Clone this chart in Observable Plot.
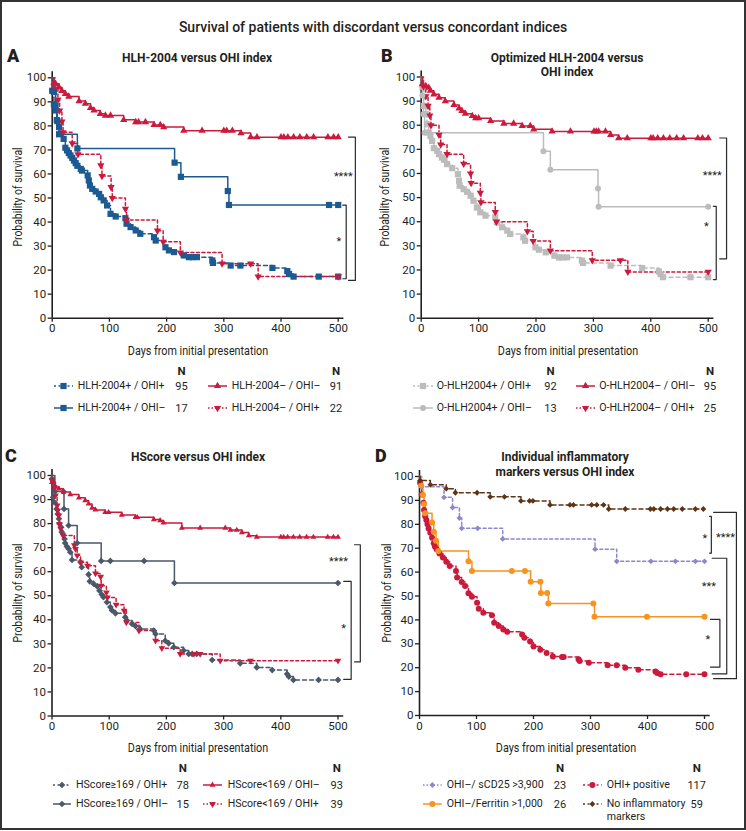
<!DOCTYPE html>
<html><head><meta charset="utf-8">
<script src="https://cdn.jsdelivr.net/npm/d3@7"></script>
<script src="https://cdn.jsdelivr.net/npm/@observablehq/plot@0.6"></script>
<style>
body{margin:0;background:#fff;font-family:Roboto,"Noto Sans",sans-serif;color:#231f20;}
#fig{position:relative;width:746px;height:830px;overflow:hidden;background:#fff;}
.frame{position:absolute;left:0;top:0;width:746px;height:830px;box-sizing:border-box;border:2px solid #333;pointer-events:none;}
.abs{position:absolute;white-space:nowrap;line-height:1;}
</style></head><body><div id="fig"><div class="frame"></div></div>
<script>
// ---------------- DATA ----------------
const xTicks = [0,100,200,300,400,500];
const yTicks = [0,10,20,30,40,50,60,70,80,90,100];

// Panel A: HLH-2004 versus OHI index  ([day, % surviving])
const A_pp = [[0,100],[0,94.6],[3,89],[6,86.4],[9,82],[12,79.5],[15,76.7],[20,74.6],[23,70.9],[26,69.8],[29,68.7],[32,67.7],[35,66.7],[38,65.6],[41,64.5],[44,63.4],[50,62.1],[52,61.4],[62,59.4],[64,57.3],[66,55.2],[70,53.8],[76,52.7],[82,51.7],[85,50.3],[90,49],[96,46.9],[102,43.4],[111,42.3],[128,41.6],[130,39.3],[137,37.9],[146,36.5],[154,35.1],[178,33.7],[181,32.3],[198,29.5],[204,28.2],[213,27.5],[230,26.1],[239,25.4],[245,25.4],[253,25.4],[280,24],[281,23],[312,21.9],[329,21.9],[385,20.9],[411,19.6],[414,18.4],[422,17.3],[466,17.3],[500,17.3]];
const A_pn = [[0,100],[3,94.1],[6,88.2],[8,82.4],[12,76.5],[44,70.6],[214,64.7],[225,58.8],[307,52.9],[309,47.1],[484,47.1],[500,47.1]];
const A_nn = [[0,100],[3,98],[6,97.5],[12,96],[17,94.6],[23,93.3],[29,92.2],[47,90.3],[58,89.2],[67,87.5],[73,86.4],[84,85],[93,84.3],[102,84.3],[125,82.5],[146,81.6],[151,81.6],[163,81.6],[178,80.4],[189,80.4],[195,79.5],[230,78],[262,78],[300,78],[305,78],[315,78],[330,77],[347,75.3],[358,75.3],[400,75.3],[405,75.3],[412,75.3],[422,75.3],[433,75.3],[445,75.3],[457,75.3],[482,75.3],[492,75.3],[500,75.3]];
const A_np = [[0,100],[5,95.5],[10,90.9],[13,86.4],[17,81.8],[19,77.3],[35,72.7],[45,68.2],[85,63.6],[87,59.1],[103,54.5],[105,50],[128,45.5],[130,40.9],[184,36.4],[194,31.8],[224,27.3],[297,22.7],[347,22.7],[360,17.3],[500,17.3]];
const A_labels = ["HLH-2004+ / OHI+","HLH-2004+ / OHI–","HLH-2004– / OHI–","HLH-2004– / OHI+"];
const A_n = [95,17,91,22];

// Panel B: Optimized HLH-2004 versus OHI index
const B_pp = [[0,100],[2,96],[5,88],[8,84.6],[10,80.4],[13,77],[16,75.6],[19,73.5],[22,70.5],[28,69.4],[31,68],[36,66.6],[40,65.7],[45,63.9],[54,62.2],[64,59.7],[66,57],[67,54.9],[74,53.5],[80,52.4],[86,50.8],[91,48.7],[97,45.9],[103,43.9],[112,42.5],[129,41.8],[132,39.7],[141,37.7],[150,36.3],[155,34.9],[178,33.5],[181,32.1],[199,29.4],[205,28.4],[217,27.3],[232,25.9],[240,25.2],[245,25.2],[254,25.2],[280,23.9],[282,22.9],[330,21.8],[385,20.8],[414,19.4],[417,18.3],[421,17],[469,17],[500,17]];
const B_pn = [[0,100],[2,92.3],[4,84.6],[6,76.9],[213,69.2],[225,61.5],[308,53.8],[309,46.2],[500,46.2]];
const B_nn = [[0,100],[2,97],[8,96.3],[13,95.6],[16,94.3],[22,92.8],[31,91.4],[42,90],[57,88.4],[66,87],[71,85.9],[77,84.8],[89,83.9],[95,82.9],[100,82.9],[121,81.8],[144,80.7],[161,80.7],[176,79.7],[190,79.7],[196,78.3],[228,77.4],[260,77.4],[301,77.4],[305,77.4],[309,77.4],[321,77.4],[330,76],[344,74.6],[359,74.6],[400,74.6],[404,74.6],[412,74.6],[422,74.6],[433,74.6],[445,74.6],[457,74.6],[482,74.6],[490,74.6],[500,74.6]];
const B_np = [[0,100],[4,96],[8,92],[12,88],[15,84],[17,80],[31,76],[34,72],[45,68],[74,64],[86,60],[87,56],[103,52],[104,48],[129,44],[131,40],[185,36],[195,32],[225,28],[298,24],[347,24],[360,19.2],[500,19.2]];
const B_labels = ["O-HLH2004+ / OHI+","O-HLH2004+ / OHI–","O-HLH2004– / OHI–","O-HLH2004– / OHI+"];
const B_n = [92,13,95,25];

// Panel C: HScore versus OHI index
const C_pp = [[0,100],[0,98.6],[2,91],[4,88.9],[8,86.1],[10,84],[12,82],[13,79.9],[16,78.5],[17,76.5],[22,73.6],[23,71.9],[26,70.5],[29,69.5],[32,68.1],[35,64.9],[50,63.9],[52,61.9],[64,58.8],[66,56],[73,54.9],[79,53.9],[83,52.1],[87,50.5],[90,49.4],[96,47.3],[102,45.3],[105,43.9],[111,42.7],[128,41.1],[131,39.7],[140,38.3],[146,37.4],[154,36.2],[178,35.5],[181,34.1],[198,31.3],[204,30.2],[213,28.6],[230,27.2],[239,25.8],[245,25.8],[253,25.8],[280,23.3],[329,21.9],[358,20.2],[385,19.1],[411,17.5],[414,16.4],[422,15],[466,15],[500,15]];
const C_pn = [[0,100],[5,93.3],[20,93.3],[21,86.1],[29,79.2],[44,71.9],[86,64.5],[102,64.5],[161,64.5],[214,55.3],[500,55.3]];
const C_nn = [[0,100],[0,97.2],[6,95.2],[12,94.5],[20,93.1],[32,92.1],[47,90.7],[58,89.6],[64,88.2],[70,86.5],[76,85.7],[93,84.7],[99,84.7],[122,83.6],[146,82.6],[149,82.6],[178,81.7],[189,81.3],[195,80.3],[227,78.2],[259,78.2],[303,78.2],[312,77.3],[323,77.3],[332,76.3],[344,75],[358,74.4],[400,74.4],[405,74.4],[412,74.4],[422,74.4],[433,74.4],[445,74.4],[457,74.4],[482,74.4],[492,74.4],[500,74.4]];
const C_np = [[0,100],[0,97.9],[4,95.2],[6,91.7],[9,87.5],[10,85.4],[12,83.4],[13,79.9],[15,77.9],[19,75.1],[39,71],[41,69.5],[44,66.8],[50,63.9],[62,62.5],[76,59.3],[85,57.9],[86,54.2],[95,51.4],[97,49.3],[112,46.3],[126,43.8],[130,38.9],[152,35.5],[181,31.3],[192,28.2],[224,25.8],[248,25.8],[259,25.8],[294,23],[347,23],[500,23]];
const C_labels = ["HScore≥169 / OHI+","HScore≥169 / OHI–","HScore<169 / OHI–","HScore<169 / OHI+"];
const C_n = [78,15,93,39];

// Panel D: Individual inflammatory markers versus OHI index
const D_scd25 = [[0,100],[4,95.7],[43,91.3],[58,87],[70,82.6],[74,78.3],[102,78.3],[146,73.9],[308,69.6],[346,64.5],[406,64.5],[449,64.5],[484,64.5],[500,64.5]];
const D_ferr = [[0,100],[3,96.2],[6,92.3],[8,88.5],[10,84.6],[22,80.8],[25,76.9],[29,73.1],[33,68.8],[86,64.5],[92,60.5],[162,60.5],[185,60.5],[195,56],[212,56],[213,51.3],[224,51.3],[226,46.9],[305,46.9],[307,41.3],[399,41.3],[500,41.3]];
const D_pos = [[0,100],[1,97.4],[4,92.5],[7,89],[8,86],[10,83.4],[12,81.8],[14,80],[16,78.2],[19,76.5],[22,74.4],[25,72.1],[27,70.7],[30,69.6],[35,67.8],[41,66.1],[47,64.3],[53,62.6],[64,60.5],[66,57.7],[74,55.9],[80,54.2],[86,51.1],[92,49.7],[101,47.2],[104,44.7],[112,43],[127,41.9],[131,38.8],[139,37.4],[147,36],[154,35],[180,33.9],[184,32.5],[194,31],[200,28.9],[212,27.5],[223,26.1],[234,24.7],[250,24.5],[253,24.5],[279,23.5],[281,22.8],[297,22.1],[330,21],[346,21],[361,20],[384,19.1],[414,18.4],[417,17.8],[423,17.3],[468,17.3],[500,17.3]];
const D_none = [[0,100],[1,98.3],[19,96.6],[47,94.9],[63,93.2],[101,93.2],[124,91.5],[149,91.5],[178,89.8],[193,89.8],[199,89.8],[229,88.1],[264,88.1],[270,88.1],[302,88.1],[311,88.1],[323,88.1],[332,86.4],[361,86.4],[405,86.4],[411,86.4],[423,86.4],[435,86.4],[446,86.4],[461,86.4],[484,86.4],[498,86.4]];
const D_labels = ["OHI–/ sCD25 >3,900","OHI–/Ferritin >1,000","OHI+ positive","No inflammatory\nmarkers"];
const D_n = [23,26,117,59];

// ---------------- STYLE / LAYOUT ----------------
const BLUE="#1c5a92", RED="#cb1a3c", GRAY="#bcbcbc", SLATE="#4a5868", PURPLE="#8c88cf", ORANGE="#f7931e", BROWN="#5e3416", INK="#231f20";
const FONT = 'Roboto, "Noto Sans", sans-serif';

const panels = [
 {geom:{left:0,top:60,width:372,height:290,x0:51.7,x500:337.7,y0:317.7,y100:77.3},
  series:[
   {data:A_pp,color:BLUE,dash:"4,3",symbol:"square",r:3.5},
   {data:A_pn,color:BLUE,dash:null,symbol:"square",r:3.5},
   {data:A_nn,color:RED,dash:null,symbol:"triangle",r:2.7},
   {data:A_np,color:RED,dash:"3,2.5",symbol:"triangle",r:2.7,rotate:180}],
  drawOrder:[0,3,1,2],
  brackets:[{x1:518,x2:530,top:75.3,bottom:15.7,label:"****",lx:509,ly:59},
            {x1:508,x2:514,top:47,bottom:16.4,label:"*",lx:501,ly:32}],
  labels:A_labels,n:A_n,
  letter:{t:"A",x:7,y:56}, title:{lines:["HLH-2004 versus OHI index"],x:197,y:58},
  xlab:{x:197.7,y:350}, ylab:{x:16.7,y:197},
  legend:{nY:372,rows:[386,407.7],cols:[{s0:54,s1:73,tx:77.7,nx:181.5},{s0:208,s1:227,tx:231.7,nx:336}]}},
 {geom:{left:372,top:60,width:372,height:290,x0:420.7,x500:707.7,y0:317.7,y100:76.5},
  series:[
   {data:B_pp,color:GRAY,dash:"4,3",symbol:"square",r:3.5},
   {data:B_pn,color:GRAY,dash:null,symbol:"circle",r:3},
   {data:B_nn,color:RED,dash:null,symbol:"triangle",r:2.7},
   {data:B_np,color:RED,dash:"3,2.5",symbol:"triangle",r:2.7,rotate:180}],
  drawOrder:[0,3,1,2],
  brackets:[{x1:520,x2:532,top:74.7,bottom:24.6,label:"****",lx:507,ly:59},
            {x1:509,x2:514,top:46.4,bottom:16,label:"*",lx:497,ly:38}],
  labels:B_labels,n:B_n,
  letter:{t:"B",x:381,y:56}, title:{lines:["Optimized HLH-2004 versus","OHI index"],x:567,y:58,lh:14.3},
  xlab:{x:567.7,y:350}, ylab:{x:384,y:196.7},
  legend:{nY:372,rows:[386,407.7],cols:[{s0:413,s1:433,tx:436.7,nx:550.5},{s0:576,s1:595,tx:599.3,nx:710}]}},
 {geom:{left:0,top:440,width:372,height:290,x0:51.5,x500:337.5,y0:715.5,y100:475},
  series:[
   {data:C_pp,color:SLATE,dash:"4,3",symbol:"diamond2",r:3},
   {data:C_pn,color:SLATE,dash:null,symbol:"diamond2",r:3},
   {data:C_nn,color:RED,dash:null,symbol:"triangle",r:2.2},
   {data:C_np,color:RED,dash:"3,2.5",symbol:"triangle",r:2.5,rotate:180}],
  drawOrder:[0,3,1,2],
  brackets:[{x1:529,x2:539,top:71.2,bottom:22.5,label:"****",lx:501,ly:64.4},
            {x1:510,x2:523,top:56,bottom:15.2,label:"*",lx:510,ly:36.4}],
  labels:C_labels,n:C_n,
  letter:{t:"C",x:5,y:456.3}, title:{lines:["HScore versus OHI index"],x:198,y:456.7},
  xlab:{x:198,y:746.7}, ylab:{x:16.7,y:593},
  legend:{nY:769,rows:[785,804],cols:[{s0:53,s1:71,tx:76,nx:182.7},{s0:203,s1:222,tx:227.7,nx:336.7}]}},
 {geom:{left:372,top:440,width:372,height:290,x0:419,x500:704,y0:715,y100:476},
  series:[
   {data:D_scd25,color:PURPLE,dash:"3,2.5",symbol:"diamond2",r:2.6},
   {data:D_ferr,color:ORANGE,dash:null,symbol:"circle",r:3},
   {data:D_pos,color:RED,dash:"4,3",symbol:"circle",r:3},
   {data:D_none,color:BROWN,dash:"4,3",symbol:"diamond2",r:2.6}],
  drawOrder:[2,0,1,3],
  brackets:[{x1:509,x2:512,top:83.3,bottom:67.9,label:"*",lx:500.5,ly:73.9},
            {x1:516,x2:556,top:85,bottom:15.4,label:"****",lx:537,ly:74.3},
            {x1:513.5,x2:539,top:65.8,bottom:17.4,label:"***",lx:507.5,ly:54},
            {x1:510.5,x2:527,top:40.2,bottom:20.2,label:"*",lx:506,ly:31.8}],
  labels:D_labels,n:D_n,
  letter:{t:"D",x:375,y:456.3}, title:{lines:["Individual inflammatory","markers versus OHI index"],x:565,y:456.7,lh:15},
  xlab:{x:565.5,y:746.7}, ylab:{x:386,y:593},
  legend:{nY:769,rows:[785,804],cols:[{s0:423,s1:441.7,tx:446.7,nx:560},{s0:583,s1:601.7,tx:606.7,nx:696.7}]}}
];

// ---------------- RENDER ----------------
const fig = document.getElementById("fig");

function txt(s, o) {
  const d = document.createElement("div");
  d.className = "abs";
  d.textContent = s;
  d.style.left = o.x + "px";
  d.style.top = o.y + "px";
  d.style.fontSize = (o.size || 11) + "px";
  d.style.fontWeight = o.weight || 400;
  d.style.color = o.color || INK;
  fig.appendChild(d);
  let sx = 1;
  if (o.width) sx = o.width / d.offsetWidth;
  const anchor = o.anchor || "middle";
  const tx = anchor === "start" ? "0" : anchor === "end" ? "-100%" : "-50%";
  d.style.transformOrigin = anchor === "start" ? "0 50%" : anchor === "end" ? "100% 50%" : "50% 50%";
  d.style.transform = `translate(${tx},-50%)` + (o.rotate ? ` rotate(${o.rotate}deg)` : "") + (sx !== 1 ? ` scaleX(${sx})` : "");
  return d;
}

const symMap = {square:d3.symbolSquare, triangle:d3.symbolTriangle, diamond2:d3.symbolDiamond2, circle:d3.symbolCircle};

function swatch(s, x0, x1, y) {
  const w = x1 - x0, h = 12;
  const ns = "http://www.w3.org/2000/svg";
  const svg = document.createElementNS(ns, "svg");
  svg.setAttribute("width", w); svg.setAttribute("height", h);
  svg.style.position = "absolute"; svg.style.left = x0 + "px"; svg.style.top = (y - h/2) + "px"; svg.style.overflow = "visible";
  const line = document.createElementNS(ns, "line");
  line.setAttribute("x1", 0); line.setAttribute("x2", w); line.setAttribute("y1", h/2); line.setAttribute("y2", h/2);
  line.setAttribute("stroke", s.color); line.setAttribute("stroke-width", 1.5);
  if (s.dash) line.setAttribute("stroke-dasharray", s.dash === "4,3" ? "2,2.5" : "1.5,2");
  svg.appendChild(line);
  const p = document.createElementNS(ns, "path");
  p.setAttribute("d", d3.symbol().type(symMap[s.symbol]).size(Math.PI * s.r * s.r)());
  p.setAttribute("fill", s.color);
  p.setAttribute("transform", `translate(${w/2},${h/2}) rotate(${s.rotate || 0})`);
  svg.appendChild(p);
  fig.appendChild(svg);
}

// figure title
txt("Survival of patients with discordant versus concordant indices", {x:373, y:26.7, size:14, weight:500});

for (const P of panels) {
  const g = P.geom;
  const k = (g.x500 - g.x0) / 500, m = (g.y0 - g.y100) / 100;
  const marginLeft = g.x0 - g.left;
  const marginRight = g.left + g.width - (g.x0 + 510 * k);
  const marginTop = (g.y100 - 2.5 * m) - g.top;
  const marginBottom = g.top + g.height - g.y0;
  const X = d => d[0], Y = d => d[1];
  const marks = [
    Plot.axisX({ticks:xTicks, tickSize:4, tickPadding:2, label:null, stroke:INK, strokeWidth:1.3}),
    Plot.axisY({ticks:yTicks, tickSize:4, tickPadding:2, label:null, stroke:INK, strokeWidth:1.3}),
    Plot.ruleY([0], {stroke:INK, strokeWidth:1.6}),
    Plot.ruleX([0], {stroke:INK, strokeWidth:1.6})
  ];
  for (const i of P.drawOrder) {
    const s = P.series[i];
    marks.push(Plot.line(s.data, {x:X, y:Y, curve:"step-after", stroke:s.color, strokeWidth:1.5, strokeDasharray:s.dash || undefined}));
  }
  for (const i of P.drawOrder) {
    const s = P.series[i];
    marks.push(Plot.dot(s.data.slice(1), {x:X, y:Y, symbol:s.symbol, r:s.r, fill:s.color, stroke:"none", rotate:s.rotate || 0}));
  }
  for (const b of P.brackets) {
    marks.push(Plot.line([[b.x1,b.top],[b.x2,b.top],[b.x2,b.bottom],[b.x1,b.bottom]], {x:X, y:Y, stroke:"#2b2b2b", strokeWidth:1.2}));
    marks.push(Plot.text([b], {x:"lx", y:"ly", text:"label", fontSize:11, fill:INK}));
  }
  const svg = Plot.plot({
    width:g.width, height:g.height, marginLeft, marginRight, marginTop, marginBottom,
    x:{domain:[0,510]}, y:{domain:[0,102.5]},
    style:{fontFamily:FONT, fontSize:"11.5px", color:INK, background:"transparent", overflow:"visible"},
    marks
  });
  svg.style.position = "absolute";
  svg.style.left = g.left + "px";
  svg.style.top = g.top + "px";
  fig.appendChild(svg);

  // texts
  txt(P.letter.t, {x:P.letter.x, y:P.letter.y, size:18, weight:900, anchor:"start"});
  P.title.lines.forEach((l, i) => txt(l, {x:P.title.x, y:P.title.y + i * (P.title.lh || 14), size:12, weight:700}));
  txt("Days from initial presentation", {x:P.xlab.x, y:P.xlab.y, size:13, width:140});
  txt("Probability of survival", {x:P.ylab.x, y:P.ylab.y, size:13, width:99, rotate:-90});

  // legend
  const L = P.legend;
  L.cols.forEach(c => txt("N", {x:c.nx, y:L.nY, size:11.5, weight:700}));
  P.series.forEach((s, i) => {
    const c = L.cols[Math.floor(i / 2)], y = L.rows[i % 2];
    swatch(s, c.s0, c.s1, y);
    const lines = P.labels[i].split("\n");
    lines.forEach((l, j) => txt(l, {x:c.tx, y:y + j * 12.5, size:10.6, anchor:"start"}));
    txt(String(P.n[i]), {x:c.nx, y:y, size:11});
  });
}
</script>
</body></html>
